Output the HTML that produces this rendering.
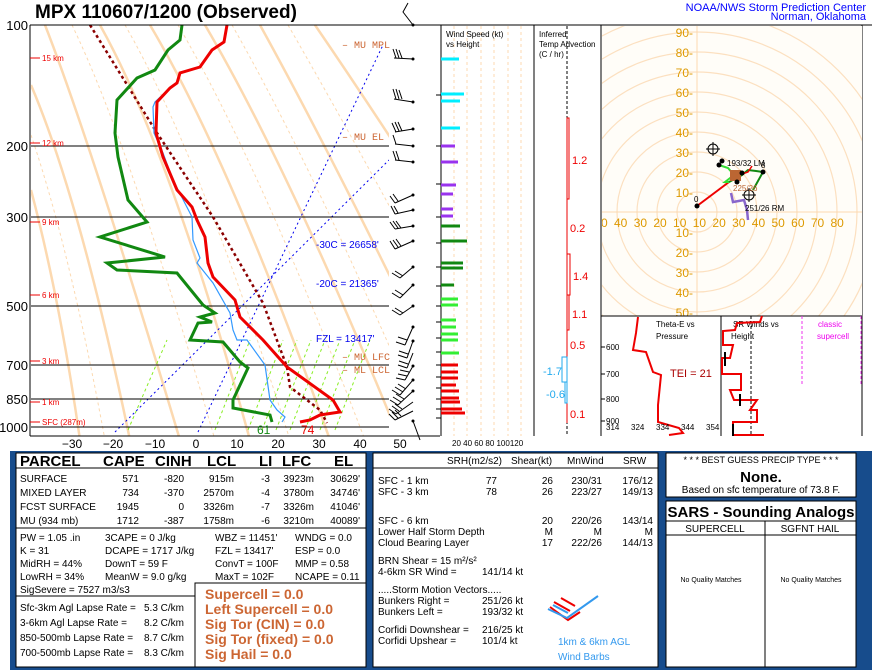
<!DOCTYPE html>
<html><head><meta charset="utf-8"><style>
body{margin:0;background:#fff}
svg{display:block;font-family:"Liberation Sans",sans-serif}
</style></head><body>
<svg width="872" height="670" viewBox="0 0 872 670" xmlns="http://www.w3.org/2000/svg">
<rect width="872" height="670" fill="#fff"/>
<!-- title -->
<text x="35" y="18" font-size="19" font-weight="bold">MPX   110607/1200  (Observed)</text>
<text x="866" y="11" font-size="11" fill="#0000ff" text-anchor="end">NOAA/NWS Storm Prediction Center</text>
<text x="866" y="20" font-size="11" fill="#0000ff" text-anchor="end">Norman, Oklahoma</text>

<!-- skewT area -->
<defs><clipPath id="sk"><rect x="31" y="25" width="358" height="411"/></clipPath>
<clipPath id="hd"><rect x="602" y="26" width="260" height="290"/></clipPath></defs>
<g clip-path="url(#sk)">
 <!-- dry adiabats -->
 <g stroke="#fcd9b0" stroke-width="2.5" fill="none">
  <path d="M45,25 Q90,140 180,440"/><path d="M31,85 Q80,200 130,440"/>
  <path d="M100,25 Q170,150 250,440"/><path d="M150,25 Q230,160 330,440"/>
  <path d="M205,25 Q290,170 400,440"/><path d="M260,25 Q340,170 450,400"/>
  <path d="M315,25 Q380,120 450,230"/><path d="M31,190 Q60,300 80,440"/>
 </g>
 <g stroke="#fcd9b0" stroke-width="1" stroke-dasharray="3,3" fill="none">
  <path d="M72,25 Q130,145 215,440"/><path d="M125,25 Q200,155 290,440"/>
  <path d="M178,25 Q260,165 365,440"/><path d="M232,25 Q315,170 430,440"/>
  <path d="M288,25 Q360,150 440,300"/><path d="M31,135 Q70,250 105,440"/>
 </g>
 <!-- mixing ratio lines -->
 <g stroke="#88ee22" stroke-width="1" stroke-dasharray="3,3">
  <line x1="128" y1="430" x2="167" y2="340"/><line x1="215" y1="430" x2="250" y2="340"/>
  <line x1="248" y1="430" x2="283" y2="340"/><line x1="262" y1="430" x2="297" y2="340"/>
  <line x1="276" y1="430" x2="311" y2="340"/><line x1="290" y1="430" x2="325" y2="340"/>
  <line x1="305" y1="430" x2="340" y2="340"/><line x1="320" y1="430" x2="355" y2="340"/>
  <line x1="335" y1="430" x2="370" y2="340"/>
 </g>
 <!-- blue dotted -->
 <g stroke="#0000ee" stroke-width="1" stroke-dasharray="2,3">
  <line x1="115" y1="432" x2="389" y2="160"/><line x1="198" y1="432" x2="383" y2="45"/>
 </g>
 <!-- isobars -->
 <g stroke="#000" stroke-width="1">
  <line x1="31" y1="146" x2="389" y2="146"/><line x1="31" y1="217" x2="389" y2="217"/>
  <line x1="31" y1="306" x2="389" y2="306"/><line x1="31" y1="365" x2="389" y2="365"/>
  <line x1="31" y1="399" x2="389" y2="399"/><line x1="31" y1="427" x2="389" y2="427"/>
 </g>
 <!-- parcel -->
 <polyline fill="none" stroke="#8b0000" stroke-width="2.5" stroke-dasharray="3,3" points="90,25 157,133 213,217 263,303 287,367 290,387 320,410 327,423"/>
 <!-- virtual temp -->
 <polyline fill="none" stroke="#3399ff" stroke-width="1.2" points="227,25 224,42 212,50 200,67 180,73 177,83 170,88 155,102 153,107 154,133 163,153 173,180 192,217 193,240 200,258 197,263 213,283 230,313 233,330 237,340 247,340 265,365 270,400 277,410 285,417 282,422"/>
 <!-- temperature -->
 <polyline fill="none" stroke="#ee0000" stroke-width="3" points="227,25 224,42 212,50 200,67 180,73 177,83 170,88 157,102 156,133 163,157 177,190 192,207 197,220 205,237 208,263 213,277 235,300 240,317 263,340 287,367 333,400 340,412 320,415 310,420 300,422"/>
 <!-- dewpoint -->
 <polyline fill="none" stroke="#118811" stroke-width="3" points="182,25 180,40 168,50 155,70 137,78 117,100 115,133 118,157 128,200 147,222 100,237 165,257 107,263 117,270 177,273 203,305 215,313 200,317 212,322 198,323 190,340 223,342 240,362 248,368 233,400 233,408 270,415 272,422"/>
</g>
<!-- axis frame -->
<line x1="30" y1="25" x2="872" y2="25" stroke="#000"/>
<line x1="30" y1="25" x2="30" y2="436" stroke="#000"/>
<line x1="30" y1="436" x2="440" y2="436" stroke="#000"/>
<!-- pressure labels -->
<g font-size="13" text-anchor="end">
 <text x="28" y="30">100</text><text x="28" y="151">200</text><text x="28" y="222">300</text>
 <text x="28" y="311">500</text><text x="28" y="370">700</text><text x="28" y="404">850</text><text x="28" y="432">1000</text>
</g>
<!-- height labels -->
<g fill="#ee0000" font-size="8" stroke="none">
 <text x="42" y="61">15 km</text><text x="42" y="146">12 km</text><text x="42" y="225">9 km</text>
 <text x="42" y="298">6 km</text><text x="42" y="364">3 km</text><text x="42" y="405">1 km</text><text x="42" y="425">SFC (287m)</text>
</g>
<g stroke="#ee0000"><line x1="30" y1="58" x2="40" y2="58"/><line x1="30" y1="143" x2="40" y2="143"/><line x1="30" y1="222" x2="40" y2="222"/><line x1="30" y1="295" x2="40" y2="295"/><line x1="30" y1="361" x2="40" y2="361"/><line x1="30" y1="402" x2="40" y2="402"/><line x1="30" y1="422" x2="40" y2="422"/></g>
<!-- temp labels -->
<g font-size="12" text-anchor="middle">
 <text x="72" y="448">−30</text><text x="113" y="448">−20</text><text x="155" y="448">−10</text><text x="196" y="448">0</text>
 <text x="237" y="448">10</text><text x="278" y="448">20</text><text x="319" y="448">30</text><text x="360" y="448">40</text><text x="400" y="448">50</text>
</g>
<text x="257" y="434" font-size="12" fill="#118811">61</text>
<text x="301" y="434" font-size="12" fill="#ee0000">74</text>
<!-- level labels -->
<g font-family="Liberation Mono,monospace" font-size="10" fill="#cc6633">
 <text x="342" y="48">–  MU MPL</text><text x="342" y="140">–  MU EL</text>
 <text x="342" y="360">–  MU LFC</text><text x="342" y="373">–  ML LCL</text>
</g>
<g font-size="10" fill="#0000ee"><text x="316" y="248">-30C = 26658'</text><text x="316" y="287">-20C = 21365'</text><text x="316" y="342">FZL = 13417'</text></g>
<!-- wind barbs -->
<g stroke="#000" stroke-width="1" fill="none">
 <path d="M413,25 L403,12 L408,3"/>
 <path d="M413,59 L394,58 M396,58 L393,49 M399,58 L396,49 M402,58 L399,50"/>
 <path d="M413,102 L394,99 M396,99 L393,89 M399,99 L396,89 M402,99 L399,90"/>
 <path d="M413,129 L395,132 M396,132 L392,123 M399,131 L395,122 M402,131 L398,122"/>
 <path d="M413,146 L395,144 M396,144 L393,135"/>
 <path d="M413,162 L395,160 M396,160 L393,151 M399,160 L396,151"/>
 <path d="M413,195 L395,203 M395,203 L390,196 M398,201 L393,194"/>
 <path d="M413,210 L395,214 M395,214 L391,206 M398,213 L394,206"/>
 <path d="M413,226 L395,229 M395,229 L390,222 M398,228 L393,221 M401,228 L396,221"/>
 <path d="M413,241 L395,249 M395,249 L390,241 M398,247 L393,240 M401,246 L396,239"/>
 <path d="M413,267 L400,278 M400,278 L392,273 M403,276 L395,271"/>
 <path d="M413,285 L400,298 M400,298 L392,293 M403,295 L395,290"/>
 <path d="M413,306 L400,315 M400,315 L392,310 M403,313 L395,308"/>
 <path d="M413,327 L405,345 M405,345 L396,342 M407,340 L398,337"/>
 <path d="M413,341 L407,358 M407,358 L398,355 M408,354 L399,351"/>
 <path d="M413,353 L407,368 M407,368 L398,365 M408,364 L399,361"/>
 <path d="M413,366 L405,380 M405,380 L396,378 M407,376 L398,374 M409,372 L400,370"/>
 <path d="M413,380 L400,395 M400,395 L392,390 M403,392 L395,387 M406,389 L398,384"/>
 <path d="M413,391 L398,405 M398,405 L390,400 M401,402 L393,397 M404,399 L396,394"/>
 <path d="M413,402 L396,414 M396,414 L389,409 M399,411 L392,406 M402,409 L395,404"/>
 <path d="M413,411 L395,420 M395,420 L389,414 M398,418 L392,412 M401,416 L395,410"/>
 <path d="M413,421 L420,440"/>
</g>
<g fill="#000"><circle cx="413" cy="25" r="1.5"/><circle cx="413" cy="59" r="1.5"/><circle cx="413" cy="102" r="1.5"/><circle cx="413" cy="129" r="1.5"/><circle cx="413" cy="146" r="1.5"/><circle cx="413" cy="162" r="1.5"/><circle cx="413" cy="195" r="1.5"/><circle cx="413" cy="210" r="1.5"/><circle cx="413" cy="226" r="1.5"/><circle cx="413" cy="241" r="1.5"/><circle cx="413" cy="267" r="1.5"/><circle cx="413" cy="285" r="1.5"/><circle cx="413" cy="306" r="1.5"/><circle cx="413" cy="327" r="1.5"/><circle cx="413" cy="341" r="1.5"/><circle cx="413" cy="366" r="1.5"/><circle cx="413" cy="380" r="1.5"/><circle cx="413" cy="391" r="1.5"/><circle cx="413" cy="421" r="1.5"/></g>
<g stroke="#000"><line x1="436" y1="95" x2="441" y2="95"/><line x1="436" y1="146" x2="441" y2="146"/><line x1="436" y1="184" x2="441" y2="184"/><line x1="436" y1="217" x2="441" y2="217"/><line x1="436" y1="243" x2="441" y2="243"/><line x1="436" y1="267" x2="441" y2="267"/><line x1="436" y1="286" x2="441" y2="286"/><line x1="436" y1="306" x2="441" y2="306"/><line x1="436" y1="322" x2="441" y2="322"/><line x1="436" y1="338" x2="441" y2="338"/><line x1="436" y1="352" x2="441" y2="352"/><line x1="436" y1="365" x2="441" y2="365"/><line x1="436" y1="377" x2="441" y2="377"/><line x1="436" y1="388" x2="441" y2="388"/><line x1="436" y1="399" x2="441" y2="399"/><line x1="436" y1="409" x2="441" y2="409"/><line x1="436" y1="418" x2="441" y2="418"/></g>

<!-- wind speed panel -->
<line x1="441" y1="25" x2="441" y2="436" stroke="#000"/>
<line x1="534" y1="25" x2="534" y2="436" stroke="#000"/>
<g stroke="#fcd9b0" stroke-dasharray="3,3"><line x1="454" y1="26" x2="454" y2="436"/><line x1="467" y1="26" x2="467" y2="436"/><line x1="481" y1="26" x2="481" y2="436"/><line x1="494" y1="26" x2="494" y2="436"/><line x1="508" y1="26" x2="508" y2="436"/><line x1="521" y1="26" x2="521" y2="436"/></g>
<text x="446" y="37" font-size="8">Wind Speed (kt)</text><text x="446" y="47" font-size="8">vs Height</text>
<text x="452" y="446" font-size="8">20 40 60 80 100120</text>
<g stroke-width="3">
 <g stroke="#00eeff"><line x1="441" y1="59" x2="459" y2="59"/><line x1="441" y1="94" x2="464" y2="94"/><line x1="441" y1="101" x2="460" y2="101"/><line x1="441" y1="128" x2="460" y2="128"/></g>
 <g stroke="#9933ee"><line x1="441" y1="146" x2="455" y2="146"/><line x1="441" y1="162" x2="458" y2="162"/><line x1="441" y1="185" x2="456" y2="185"/><line x1="441" y1="194" x2="453" y2="194"/><line x1="441" y1="209" x2="453" y2="209"/><line x1="441" y1="216" x2="453" y2="216"/></g>
 <g stroke="#118811"><line x1="441" y1="226" x2="460" y2="226"/><line x1="441" y1="241" x2="467" y2="241"/><line x1="441" y1="263" x2="463" y2="263"/><line x1="441" y1="268" x2="463" y2="268"/><line x1="441" y1="285" x2="454" y2="285"/></g>
 <g stroke="#33ee33"><line x1="441" y1="299" x2="458" y2="299"/><line x1="441" y1="305" x2="458" y2="305"/><line x1="441" y1="320" x2="456" y2="320"/><line x1="441" y1="327" x2="456" y2="327"/><line x1="441" y1="334" x2="458" y2="334"/><line x1="441" y1="340" x2="458" y2="340"/><line x1="441" y1="353" x2="459" y2="353"/></g>
 <g stroke="#ee0000"><line x1="441" y1="365" x2="458" y2="365"/><line x1="441" y1="372" x2="458" y2="372"/><line x1="441" y1="378" x2="458" y2="378"/><line x1="441" y1="385" x2="456" y2="385"/><line x1="441" y1="391" x2="459" y2="391"/><line x1="441" y1="398" x2="459" y2="398"/><line x1="441" y1="402" x2="460" y2="402"/><line x1="441" y1="409" x2="462" y2="409"/><line x1="441" y1="413" x2="465" y2="413"/></g>
</g>

<!-- temp advection -->
<line x1="567" y1="26" x2="567" y2="436" stroke="#000" stroke-dasharray="3,2"/>
<text x="539" y="37" font-size="8">Inferred</text><text x="539" y="47" font-size="8">Temp Advection</text><text x="539" y="57" font-size="8">(C / hr)</text>
<g fill="none" stroke="#ee0000"><rect x="567" y="118" width="2" height="81"/><line x1="567" y1="199" x2="567" y2="254"/><rect x="567" y="254" width="3" height="41"/><rect x="567" y="295" width="2" height="35"/><line x1="567" y1="330" x2="567" y2="357"/><line x1="567" y1="403" x2="567" y2="423"/></g>
<g fill="none" stroke="#22aaee"><rect x="562" y="357" width="5" height="25"/><rect x="565" y="382" width="2" height="21"/></g>
<g font-size="11" fill="#ee0000"><text x="572" y="164">1.2</text><text x="570" y="232">0.2</text><text x="573" y="280">1.4</text><text x="572" y="318">1.1</text><text x="570" y="349">0.5</text><text x="570" y="418">0.1</text></g>
<g font-size="11" fill="#22aaee"><text x="543" y="375">-1.7</text><text x="546" y="398">-0.6</text></g>

<!-- hodograph -->
<line x1="601" y1="25" x2="601" y2="436" stroke="#000"/>
<line x1="862" y1="25" x2="862" y2="436" stroke="#000"/>
<g clip-path="url(#hd)">
 <rect x="602" y="26" width="260" height="290" fill="#fffdf8"/>
 <g fill="none" stroke="#fce0c0" stroke-width="1.2">
  <circle cx="697" cy="212" r="20"/><circle cx="697" cy="212" r="40"/><circle cx="697" cy="212" r="60"/><circle cx="697" cy="212" r="80"/><circle cx="697" cy="212" r="100"/><circle cx="697" cy="212" r="120"/><circle cx="697" cy="212" r="140"/><circle cx="697" cy="212" r="160"/><circle cx="697" cy="212" r="180"/><circle cx="697" cy="212" r="200"/>
 </g>
 <line x1="602" y1="212" x2="862" y2="212" stroke="#fcd9b0"/>
 <line x1="697" y1="26" x2="697" y2="316" stroke="#fcd9b0"/>
 <g font-size="12" fill="#dd9900" text-anchor="end">
  <text x="693" y="37">90-</text><text x="693" y="57">80-</text><text x="693" y="77">70-</text><text x="693" y="97">60-</text><text x="693" y="117">50-</text><text x="693" y="137">40-</text><text x="693" y="157">30-</text><text x="693" y="177">20-</text><text x="693" y="197">10-</text>
  <text x="693" y="237">10-</text><text x="693" y="257">20-</text><text x="693" y="277">30-</text><text x="693" y="297">40-</text><text x="693" y="317">50-</text>
 </g>
 <text x="601" y="227" font-size="12" fill="#dd9900" word-spacing="3">0 40 30 20 10   10 20 30 40 50 60 70 80</text>
 <polyline fill="none" stroke="#ee0000" stroke-width="2" points="697,206 729,182"/>
 <polyline fill="none" stroke="#33dd33" stroke-width="2" points="719,165 728,168 734,175 725,182 729,182"/>
 <polyline fill="none" stroke="#118811" stroke-width="2" points="729,182 742,175 748,170 756,171 763,172 753,190"/>
 <polyline fill="none" stroke="#ee0000" stroke-width="1.5" points="742,174 748,172 752,166"/>
 <polyline fill="none" stroke="#8866cc" stroke-width="2.5" points="731,193 733,202 744,200 747,210 748,220"/>
 <rect x="730" y="170" width="11" height="11" fill="#bb6633"/>
 <g fill="#000"><circle cx="697" cy="206" r="2.5"/><circle cx="719" cy="165" r="2.5"/><circle cx="722" cy="161" r="2.5"/><circle cx="742" cy="173" r="2.5"/><circle cx="763" cy="172" r="2.5"/><circle cx="737" cy="182" r="2.5"/></g>
 <g fill="none" stroke="#000"><circle cx="713" cy="149" r="5"/><line x1="706" y1="149" x2="720" y2="149"/><line x1="713" y1="142" x2="713" y2="156"/>
 <circle cx="749" cy="195" r="5"/><line x1="742" y1="195" x2="756" y2="195"/><line x1="749" y1="188" x2="749" y2="202"/></g>
 <g font-size="8"><text x="694" y="202">0</text><text x="727" y="166">193/32 LM</text><text x="745" y="211">251/26 RM</text><text x="761" y="168">8</text></g>
 <text x="733" y="191" font-size="8" fill="#bb6633">225/26</text>
</g>
<line x1="601" y1="316" x2="862" y2="316" stroke="#000"/>
<!-- theta-e -->
<line x1="721" y1="316" x2="721" y2="436" stroke="#000"/>
<polyline fill="none" stroke="#ee0000" stroke-width="2" points="638,317 636,333 633,350 646,352 653,372 661,375 658,405 658,422 679,428 683,433 669,435"/>
<g font-size="8"><text x="656" y="327">Theta-E vs</text><text x="656" y="339">Pressure</text>
<text x="606" y="350">600</text><text x="606" y="377">700</text><text x="606" y="402">800</text><text x="606" y="424">900</text>
<text x="606" y="430">314</text><text x="631" y="430">324</text><text x="656" y="430">334</text><text x="681" y="430">344</text><text x="706" y="430">354</text></g>
<g stroke="#000"><line x1="601" y1="347" x2="605" y2="347"/><line x1="601" y1="374" x2="605" y2="374"/><line x1="601" y1="399" x2="605" y2="399"/><line x1="601" y1="421" x2="605" y2="421"/></g>
<text x="670" y="377" font-size="11" fill="#aa0000">TEI = 21</text>
<!-- SR winds -->
<line x1="751" y1="316" x2="751" y2="436" stroke="#000" stroke-dasharray="3,2"/>
<g stroke="#ee33ee" stroke-dasharray="3,2"><line x1="802" y1="316" x2="802" y2="384"/><line x1="861" y1="316" x2="861" y2="384"/></g>
<text x="818" y="327" font-size="8" fill="#ee00ee">classic</text><text x="817" y="339" font-size="8" fill="#ee00ee">supercell</text>
<g font-size="8"><text x="733" y="327">SR Winds vs</text><text x="731" y="339">Height</text></g>
<polyline fill="none" stroke="#ee0000" stroke-width="2" points="762,316 760,322 737,323 735,330 723,331 723,345 733,345 730,358 722,358 722,374 741,374 741,390 730,390 734,400 757,400 750,410 757,410 757,422 733,422 733,435 764,435"/>
<g stroke="#000" stroke-width="2"><line x1="725" y1="352" x2="725" y2="366"/><line x1="740" y1="394" x2="740" y2="406"/><line x1="733" y1="424" x2="733" y2="436"/></g>

<!-- bottom panel -->
<rect x="10" y="451" width="862" height="219" fill="#174c8c"/>
<rect x="16" y="453" width="350" height="214" fill="#fff" stroke="#000"/>
<rect x="373" y="453" width="285" height="214" fill="#fff" stroke="#000"/>
<rect x="666" y="453" width="190" height="44" fill="#fff" stroke="#000"/>
<rect x="666" y="501" width="190" height="166" fill="#fff" stroke="#000"/>
<g stroke="#000"><line x1="16" y1="468" x2="366" y2="468"/><line x1="16" y1="528" x2="366" y2="528"/><line x1="16" y1="596" x2="195" y2="596"/><line x1="373" y1="468" x2="658" y2="468"/>
<line x1="666" y1="521" x2="856" y2="521"/><line x1="666" y1="535" x2="856" y2="535"/><line x1="765" y1="521" x2="765" y2="667"/></g>
<rect x="195" y="583" width="171" height="84" fill="#fff" stroke="#000"/>
<g font-size="15" font-weight="bold"><text x="20" y="466">PARCEL</text><text x="103" y="466">CAPE</text><text x="155" y="466">CINH</text><text x="207" y="466">LCL</text><text x="259" y="466">LI</text><text x="282" y="466">LFC</text><text x="334" y="466">EL</text></g>
<g font-size="10">
 <text x="20" y="482">SURFACE</text><text x="20" y="496">MIXED LAYER</text><text x="20" y="510">FCST SURFACE</text><text x="20" y="524">MU    (934 mb)</text>
 <g text-anchor="end">
  <text x="139" y="482">571</text><text x="139" y="496">734</text><text x="139" y="510">1945</text><text x="139" y="524">1712</text>
  <text x="184" y="482">-820</text><text x="184" y="496">-370</text><text x="184" y="510">0</text><text x="184" y="524">-387</text>
  <text x="234" y="482">915m</text><text x="234" y="496">2570m</text><text x="234" y="510">3326m</text><text x="234" y="524">1758m</text>
  <text x="270" y="482">-3</text><text x="270" y="496">-4</text><text x="270" y="510">-7</text><text x="270" y="524">-6</text>
  <text x="314" y="482">3923m</text><text x="314" y="496">3780m</text><text x="314" y="510">3326m</text><text x="314" y="524">3210m</text>
  <text x="360" y="482">30629'</text><text x="360" y="496">34746'</text><text x="360" y="510">41046'</text><text x="360" y="524">40089'</text>
 </g>
 <text x="20" y="541">PW = 1.05 .in</text><text x="105" y="541">3CAPE = 0 J/kg</text><text x="215" y="541">WBZ = 11451'</text><text x="295" y="541">WNDG = 0.0</text>
 <text x="20" y="554">K = 31</text><text x="105" y="554">DCAPE = 1717 J/kg</text><text x="215" y="554">FZL = 13417'</text><text x="295" y="554">ESP = 0.0</text>
 <text x="20" y="567">MidRH = 44%</text><text x="105" y="567">DownT = 59 F</text><text x="215" y="567">ConvT = 100F</text><text x="295" y="567">MMP = 0.58</text>
 <text x="20" y="580">LowRH = 34%</text><text x="105" y="580">MeanW = 9.0 g/kg</text><text x="215" y="580">MaxT = 102F</text><text x="295" y="580">NCAPE = 0.11</text>
 <text x="20" y="593">SigSevere = 7527 m3/s3</text>
 <text x="20" y="611">Sfc-3km Agl Lapse Rate =</text><text x="144" y="611">5.3 C/km</text>
 <text x="20" y="626">3-6km Agl Lapse Rate =</text><text x="144" y="626">8.2 C/km</text>
 <text x="20" y="641">850-500mb Lapse Rate =</text><text x="144" y="641">8.7 C/km</text>
 <text x="20" y="656">700-500mb Lapse Rate =</text><text x="144" y="656">8.3 C/km</text>
</g>
<g font-size="14" font-weight="bold" fill="#cc6633"><text x="205" y="599">Supercell = 0.0</text><text x="205" y="614">Left Supercell = 0.0</text><text x="205" y="629">Sig Tor (CIN) = 0.0</text><text x="205" y="644">Sig Tor (fixed) = 0.0</text><text x="205" y="659">Sig Hail = 0.0</text></g>
<g font-size="10">
 <text x="447" y="464">SRH(m2/s2)</text><text x="511" y="464">Shear(kt)</text><text x="567" y="464">MnWind</text><text x="623" y="464">SRW</text>
 <text x="378" y="484">SFC - 1 km</text><text x="378" y="495">SFC - 3 km</text><text x="378" y="524">SFC - 6 km</text><text x="378" y="535">Lower Half Storm Depth</text><text x="378" y="546">Cloud Bearing Layer</text>
 <g text-anchor="end">
  <text x="497" y="484">77</text><text x="497" y="495">78</text>
  <text x="553" y="484">26</text><text x="553" y="495">26</text><text x="553" y="524">20</text><text x="553" y="535">M</text><text x="553" y="546">17</text>
  <text x="602" y="484">230/31</text><text x="602" y="495">223/27</text><text x="602" y="524">220/26</text><text x="602" y="535">M</text><text x="602" y="546">222/26</text>
  <text x="653" y="484">176/12</text><text x="653" y="495">149/13</text><text x="653" y="524">143/14</text><text x="653" y="535">M</text><text x="653" y="546">144/13</text>
 </g>
 <text x="378" y="564">BRN Shear =  15 m²/s²</text><text x="378" y="575">4-6km SR Wind =</text><text x="482" y="575">141/14 kt</text>
 <text x="378" y="593">.....Storm Motion Vectors.....</text>
 <text x="378" y="604">Bunkers Right =</text><text x="482" y="604">251/26 kt</text>
 <text x="378" y="615">Bunkers Left =</text><text x="482" y="615">193/32 kt</text>
 <text x="378" y="633">Corfidi Downshear =</text><text x="482" y="633">216/25 kt</text>
 <text x="378" y="644">Corfidi Upshear =</text><text x="482" y="644">101/4 kt</text>
 <text x="558" y="645" fill="#3399ee">1km &amp; 6km AGL</text><text x="558" y="660" fill="#3399ee">Wind Barbs</text>
</g>
<g fill="none" stroke-width="2">
 <polyline stroke="#ee0000" points="550,607 568,620 580,612 M556,603" /><polyline stroke="#ee0000" points="554,602 570,611"/><polyline stroke="#ee0000" points="561,598 575,606"/>
 <polyline stroke="#3399ee" points="548,609 567,618 598,596"/><polyline stroke="#3399ee" points="553,605 568,613"/>
</g>
<text x="761" y="463" font-size="9" text-anchor="middle">* * * BEST GUESS PRECIP TYPE * * *</text>
<text x="761" y="482" font-size="15" font-weight="bold" text-anchor="middle">None.</text>
<text x="761" y="493" font-size="10" text-anchor="middle">Based on sfc temperature of 73.8 F.</text>
<text x="761" y="517" font-size="15" font-weight="bold" text-anchor="middle">SARS - Sounding Analogs</text>
<text x="715" y="532" font-size="10" text-anchor="middle">SUPERCELL</text><text x="810" y="532" font-size="10" text-anchor="middle">SGFNT HAIL</text>
<text x="711" y="582" font-size="7" text-anchor="middle">No Quality Matches</text><text x="811" y="582" font-size="7" text-anchor="middle">No Quality Matches</text>
</svg>
</body></html>
